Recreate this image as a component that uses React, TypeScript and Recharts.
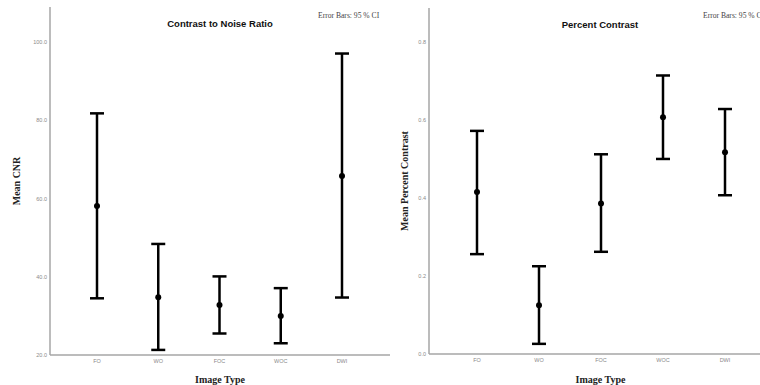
import React from 'react';
import { ComposedChart, Line, ErrorBar, XAxis, YAxis, Label } from 'recharts';

const imageTypes = ['FO', 'WO', 'FOC', 'WOC', 'DWI'];

// Contrast to Noise Ratio
const cnrMean = [58.1, 34.8, 32.8, 30.0, 65.8];
const cnrLower = [34.5, 21.3, 25.5, 23.0, 34.7];
const cnrUpper = [81.8, 48.4, 40.1, 37.1, 97.1];
const cnrTicks = [20, 40, 60, 80, 100];

// Percent Contrast
const pcMean = [0.415, 0.125, 0.386, 0.607, 0.517];
const pcLower = [0.256, 0.026, 0.262, 0.5, 0.407];
const pcUpper = [0.572, 0.225, 0.512, 0.714, 0.628];
const pcTicks = [0, 0.2, 0.4, 0.6, 0.8];

const buildRows = (mean: number[], lower: number[], upper: number[]) =>
  imageTypes.map((name, i) => ({
    name,
    mean: mean[i],
    err: [mean[i] - lower[i], upper[i] - mean[i]],
  }));

const cnrRows = buildRows(cnrMean, cnrLower, cnrUpper);
const pcRows = buildRows(pcMean, pcLower, pcUpper);

const frame = '#a6a6a6';
const tickStyle = { fontSize: 5.5, fill: '#8a8a8a', fontFamily: 'Liberation Sans, Arial, sans-serif' };
const axisLabelStyle = {
  fontSize: 10,
  fontWeight: 'bold',
  fill: '#222',
  fontFamily: 'Liberation Serif, Times New Roman, serif',
};

interface PanelProps {
  rows: any[];
  domain: [number, number];
  ticks: number[];
  digits: number;
  yLabel: string;
  labelOffset: number;
  width: number;
  margin: { top: number; right: number; bottom: number; left: number };
  xHeight: number;
  xPadding: { left: number; right: number };
}

const Panel: React.FC<PanelProps> = ({ rows, domain, ticks, digits, yLabel, labelOffset, width, margin, xHeight, xPadding }) => (
  <ComposedChart width={width} height={385} data={rows} margin={margin}>
    <XAxis
      dataKey="name"
      padding={xPadding}
      tickLine={false}
      tickSize={0}
      tickMargin={4}
      tick={tickStyle}
      height={xHeight}
      axisLine={{ stroke: frame, strokeWidth: 1.5 }}
    >
      <Label value="Image Type" position="insideBottom" offset={2} style={axisLabelStyle} />
    </XAxis>
    <XAxis xAxisId="top" dataKey="name" orientation="top" height={0} tick={false} tickLine={false}
      axisLine={{ stroke: frame, strokeWidth: 1.5 }} />
    <YAxis
      domain={domain}
      ticks={ticks}
      allowDataOverflow
      width={40}
      tickLine={false}
      tickSize={0}
      tickMargin={3}
      tick={tickStyle}
      tickFormatter={(v: number) => v.toFixed(digits)}
      axisLine={{ stroke: frame, strokeWidth: 1.5 }}
    >
      <Label value={yLabel} angle={-90} position="insideLeft" offset={labelOffset} style={{ ...axisLabelStyle, textAnchor: 'middle' }} />
    </YAxis>
    <YAxis yAxisId="right" orientation="right" width={0} domain={[0, 1]} tick={false} tickLine={false}
      axisLine={{ stroke: frame, strokeWidth: 1.5 }} />
    <Line
      dataKey="mean"
      stroke="none"
      dot={{ r: 3, fill: '#000', stroke: 'none' }}
      activeDot={false}
      isAnimationActive={false}
    >
      <ErrorBar dataKey="err" direction="y" width={7} stroke="#000" strokeWidth={2.5} />
    </Line>
  </ComposedChart>
);

const titleStyle: React.CSSProperties = {
  position: 'absolute',
  transform: 'translate(-50%, -50%)',
  fontFamily: 'Liberation Sans, Arial, sans-serif',
  fontWeight: 'bold',
  fontSize: 9.5,
  color: '#111',
  whiteSpace: 'nowrap',
};

const noteStyle: React.CSSProperties = {
  position: 'absolute',
  transform: 'translateY(-50%)',
  fontFamily: 'Liberation Serif, Times New Roman, serif',
  fontSize: 7.6,
  color: '#444',
  whiteSpace: 'nowrap',
};

export default function App() {
  return (
    <div style={{ position: 'absolute', left: 0, top: 0, width: 760, height: 385, overflow: 'hidden', background: '#fff' }}>
      <div style={{ position: 'absolute', left: 0, top: 0 }}>
        <Panel
          rows={cnrRows}
          domain={[20, 109]}
          ticks={cnrTicks}
          digits={1}
          yLabel="Mean CNR"
          labelOffset={6}
          width={392}
          margin={{ top: 7, right: 2, bottom: 0, left: 10 }}
          xHeight={30}
          xPadding={{ left: 47, right: 48 }}
        />
      </div>
      <div style={{ position: 'absolute', left: 380, top: 0 }}>
        <Panel
          rows={pcRows}
          domain={[0, 0.887]}
          ticks={pcTicks}
          digits={1}
          yLabel="Mean Percent Contrast"
          labelOffset={15}
          width={400}
          margin={{ top: 8, right: 8, bottom: 0, left: 9 }}
          xHeight={31}
          xPadding={{ left: 48, right: 47 }}
        />
      </div>
      <div style={{ ...titleStyle, left: 220, top: 23 }}>Contrast to Noise Ratio</div>
      <div style={{ ...titleStyle, left: 600, top: 24 }}>Percent Contrast</div>
      <div style={{ ...noteStyle, left: 318, top: 15 }}>Error Bars: 95 % CI</div>
      <div style={{ ...noteStyle, left: 703, top: 15 }}>Error Bars: 95 % CI</div>
    </div>
  );
}
